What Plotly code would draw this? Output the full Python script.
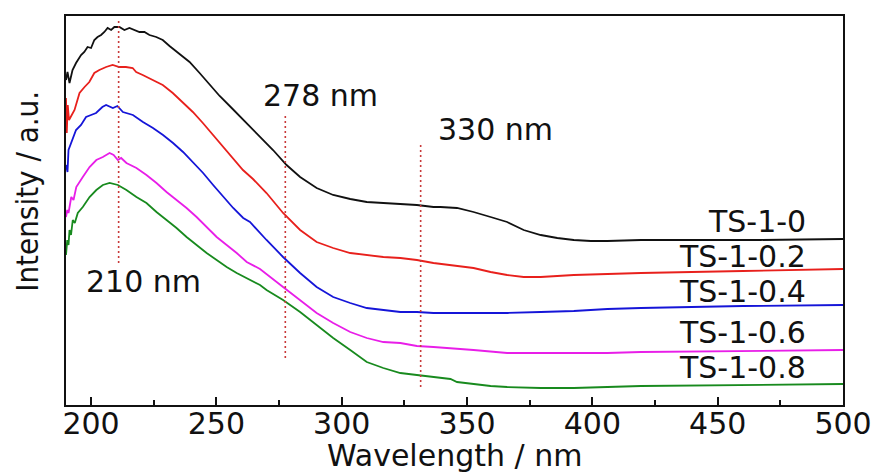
import plotly.graph_objects as go

# ---- data (intensity in arbitrary units) ----
wl_0 = [190, 190.6, 191.4, 192.6, 194, 196, 197.3, 198.6, 200, 201.3, 202.6, 204, 205.3, 206.6, 208, 209.3,
        211.3, 213.3, 215.3, 217.3, 219.3, 221.3, 223.3, 226, 228.6, 231.3, 235.3, 239.3, 243.3, 247.3, 251.3,
        256.5, 262, 267.4, 272.6, 278, 283.4, 290, 296.6, 303.4, 310, 316.6, 323.4, 330, 336.6, 339.4, 346,
        352.6, 359.4, 366, 372.6, 379.4, 386, 392.6, 399.4, 406, 419.4, 443, 467, 500]
int_0 = [325, 333, 322, 335, 342, 350, 353, 358, 357, 365, 368, 370, 373, 377, 375, 378,
         378, 375, 377, 375, 373, 373, 370, 368, 365, 359, 351, 343, 332, 320, 309,
         296, 282, 268, 255, 240, 228, 217, 210, 206, 203, 202, 201, 200, 198, 198, 197,
         193, 188, 183, 175, 170, 167, 165, 164, 164, 165, 165, 165, 166]

wl_02 = [190, 190.3, 190.7, 191.2, 193.4, 195.4, 197.4, 199.3, 201.3, 203.3, 206, 208.6, 211.3, 213.9, 216.6,
         218, 220.6, 224.6, 228.6, 232.6, 236.6, 240.6, 244.6, 248.6, 252.6, 256.6, 260.6, 264.6, 270, 276.6,
         283.4, 290, 296.6, 303.4, 310, 316.6, 323.4, 330, 336.6, 343.4, 352.6, 359.4, 366, 372.6, 379.4,
         392.6, 406, 419.4, 460, 500]
int_02 = [307, 272, 300, 285, 295, 312, 318, 323, 332, 335, 338, 340, 338, 338, 337,
          333, 330, 325, 320, 312, 303, 293, 282, 270, 258, 247, 235, 226, 212, 192,
          175, 163, 157, 152, 150, 148, 147, 145, 142, 140, 137, 133, 130, 128, 128,
          130, 131, 132, 134, 136]

wl_04 = [190, 190.6, 191, 192, 193, 194, 196, 198, 200, 202, 204.5, 206, 208.7, 210.5, 212.7, 216.7, 220.7,
         224.7, 228.7, 232.7, 236.7, 240.7, 244.7, 248.7, 252.7, 256.7, 260.7, 263.4, 270, 276.6, 283.4, 290,
         296.6, 303.4, 310, 316.6, 323.4, 330, 336.6, 343.4, 352.6, 366, 379.4, 392.6, 406, 419.4, 460, 500]
int_04 = [240, 233, 255, 262, 268, 275, 280, 288, 290, 292, 298, 300, 297, 299, 293, 290, 283,
          277, 270, 262, 253, 243, 232, 220, 208, 197, 187, 183, 165, 148, 132, 118,
          108, 102, 97, 95, 93, 93, 92, 92, 92, 92, 93, 94, 96, 97, 99, 100]

wl_06 = [190, 190.5, 191, 192.1, 193, 194.1, 196.7, 199.4, 202.1, 204.7, 207.4, 209, 210.7, 212, 214.1, 218.1,
         222.1, 226.1, 230.1, 234.1, 238.1, 242.1, 246.1, 250.1, 254.1, 258.1, 262.1, 267.4, 276.6, 283.4,
         290, 296.6, 303.4, 310, 316.6, 323.4, 330, 336.6, 343.4, 352.6, 366, 379.4, 392.6, 406, 419.4, 460, 500]
int_06 = [188, 195, 192, 208, 205, 218, 228, 238, 245, 248, 252, 250, 245, 247, 242, 237,
          230, 222, 213, 205, 197, 188, 178, 168, 160, 152, 143, 136, 118, 105,
          92, 82, 73, 67, 63, 62, 59, 58, 57, 55, 52, 52, 52, 52, 53, 54, 55]

wl_08 = [190, 190.5, 191, 191.4, 192, 192.7, 193.5, 194.7, 196.7, 199.4, 202.1, 204.7, 207.4, 210.7, 214.1,
         218.1, 222.1, 226.1, 230.1, 234.1, 238.1, 242.1, 246.1, 250.1, 254.1, 258.1, 262.1, 267.4, 270, 276.6,
         283.4, 290, 296.6, 303.4, 310, 316.6, 323.4, 330, 336.6, 343.4, 346, 352.6, 359.4, 366, 379.4, 392.6,
         406, 419.4, 500]
int_08 = [150, 165, 160, 175, 170, 185, 182, 192, 198, 208, 215, 220, 222, 220, 215,
          208, 202, 193, 185, 177, 168, 160, 152, 145, 138, 132, 127, 120, 115, 105,
          93, 80, 67, 55, 43, 37, 32, 30, 28, 26, 23, 21, 19, 18, 17, 17,
          18, 19, 21]

series_names = ["TS-1-0", "TS-1-0.2", "TS-1-0.4", "TS-1-0.6", "TS-1-0.8"]
series_wl = [wl_0, wl_02, wl_04, wl_06, wl_08]
series_int = [int_0, int_02, int_04, int_06, int_08]
series_colors = ["#111111", "#e8201c", "#1515d8", "#e81ee8", "#188a1e"]
label_wl = [486, 486, 486, 486, 486]
label_int = [184, 149, 114, 73, 38]

peak_wl = [211, 277.5, 331.5]
peak_low = [142, 47, 18]
peak_high = [385, 290, 262]
peak_text = ["210 nm", "278 nm", "330 nm"]
peak_text_wl = [221, 291.5, 361.5]
peak_text_int = [124, 310, 276]

x_ticks = [200, 250, 300, 350, 400, 450, 500]

FONT = "DejaVu Sans, Liberation Sans, Arial, sans-serif"
FS = 30

fig = go.Figure()
for wl, inten, col in zip(series_wl, series_int, series_colors):
    fig.add_trace(go.Scatter(x=wl, y=inten, mode="lines",
                             line=dict(color=col, width=1.8), showlegend=False,
                             hoverinfo="skip"))

for px, lo, hi in zip(peak_wl, peak_low, peak_high):
    fig.add_trace(go.Scatter(x=[px, px], y=[lo, hi], mode="lines",
                             line=dict(color="#c83a3a", width=1.6, dash="2px,3px"),
                             showlegend=False, hoverinfo="skip"))

annotations = []
for name, lx, ly in zip(series_names, label_wl, label_int):
    annotations.append(dict(x=lx, y=ly, xref="x", yref="y", text=name, showarrow=False,
                            xanchor="right", yanchor="middle",
                            font=dict(family=FONT, size=FS, color="#111111")))
for t, tx, ty in zip(peak_text, peak_text_wl, peak_text_int):
    annotations.append(dict(x=tx, y=ty, xref="x", yref="y", text=t, showarrow=False,
                            xanchor="center", yanchor="middle",
                            font=dict(family=FONT, size=FS, color="#111111")))
annotations.append(dict(x=0, y=0.548, xref="paper", yref="paper", xshift=-39,
                        text="Intensity / a.u.", showarrow=False, textangle=-90,
                        xanchor="center", yanchor="middle",
                        font=dict(family="DejaVu Sans Condensed, Liberation Sans, sans-serif",
                                  size=31, color="#111111")))
annotations.append(dict(x=0.5, y=0, xref="paper", yref="paper", yshift=-50,
                        text="Wavelength / nm", showarrow=False,
                        xanchor="center", yanchor="middle",
                        font=dict(family=FONT, size=FS, color="#111111")))

# the page body has an 8px default margin, so the figure is sized and placed to compensate
fig.update_layout(
    width=875, height=465,
    margin=dict(l=58, r=40, t=8, b=68, autoexpand=False),
    paper_bgcolor="white", plot_bgcolor="white",
    annotations=annotations,
    xaxis=dict(range=[190, 500], tickvals=x_ticks, ticks="inside", ticklen=8, tickwidth=2,
               tickcolor="#111111", showline=True, linecolor="#111111", linewidth=2,
               mirror=True, showgrid=False, zeroline=False, automargin=False,
               ticklabelstandoff=-9,
               minor=dict(tickvals=[225, 275, 325, 375, 425, 475], ticks="inside", ticklen=5,
                          tickwidth=2, tickcolor="#111111"),
               tickfont=dict(family=FONT, size=FS, color="#111111")),
    yaxis=dict(range=[0, 389], showticklabels=False, ticks="", showline=True, automargin=False,
               linecolor="#111111", linewidth=2, mirror=True, showgrid=False, zeroline=False),
)

fig.write_html("out.html")
